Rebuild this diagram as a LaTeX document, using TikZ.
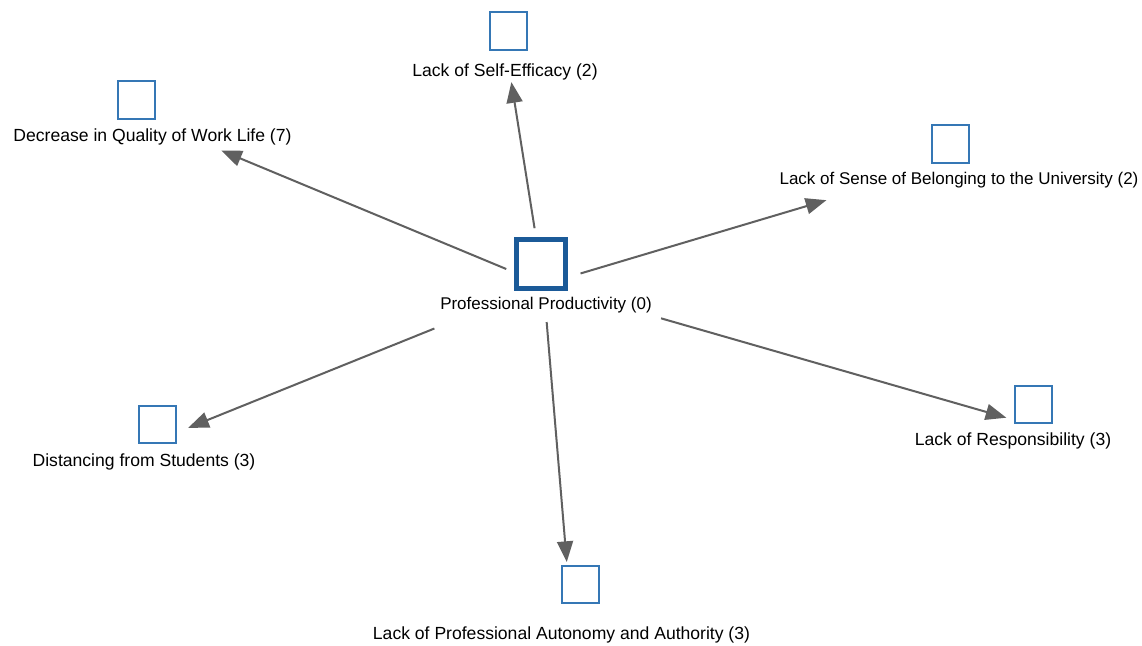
\documentclass[tikz,border=0pt]{standalone}
\usepackage{fontspec}
\setmainfont{Liberation Sans}
\usepackage{tikz}
\usetikzlibrary{arrows.meta,calc}

\definecolor{boxblue}{HTML}{3577B5}
\definecolor{coreblue}{HTML}{1B5A98}
\definecolor{arrowgray}{HTML}{606060}

\tikzset{
  concept/.style={draw=boxblue, line width=0.06cm, minimum size=1.11cm, inner sep=0pt},
  core/.style={draw=coreblue, line width=0.15cm, minimum size=1.47cm, inner sep=0pt},
  lbl/.style={font=\fontsize{15}{18}\selectfont, inner sep=0pt},
  lbl small/.style={lbl, font=\fontsize{14.5}{17}\selectfont},
  conn/.style={draw=arrowgray, line width=0.06cm,
    -{Triangle[length=0.62cm,width=0.48cm]}}
}

\begin{document}
\begin{tikzpicture}[x=0.03cm,y=-0.03cm]
  \useasboundingbox[fill=white] (0,0) rectangle (1142,646);

  % Core: professional productivity
  \node[core] (ppb) at (541,264) {};
  \node[lbl small] (ppl) at (546,305) {Professional Productivity (0)};
  \coordinate (pp) at ($(ppb)!0.5!(ppl)$);

  % Consequences
  \node[concept] (seb) at (508,31) {};
  \node[lbl] (sel) at (505,72) {Lack of Self-Efficacy (2)};
  \node[concept] (dqb) at (136,100) {};
  \node[lbl] (dql) at (152.5,137) {Decrease in Quality of Work Life (7)};
  \node[concept] (sbb) at (950,144) {};
  \node[lbl small] (sbl) at (959,180) {Lack of Sense of Belonging to the University (2)};
  \node[concept] (lrb) at (1033,404) {};
  \node[lbl] (lrl) at (1013,441) {Lack of Responsibility (3)};
  \node[concept] (dsb) at (157,424) {};
  \node[lbl] (dsl) at (144,462) {Distancing from Students (3)};
  \node[concept] (pab) at (580,584) {};
  \node[lbl] (pal) at (561.5,635) {Lack of Professional Autonomy and Authority (3)};

  % group centres
  \foreach \n in {se,dq,sb,lr,ds,pa}
    \coordinate (\n) at ($(\n b)!0.5!(\n l)$);

  % Arrows out of the core
  \foreach \t/\a/\b in {se/1.71/0.93, dq/1.21/2.50, sb/1.16/4.01,
                        lr/3.67/0.52, ds/3.53/1.22, pa/1.13/1.43}
    \draw[conn] ($(pp)!\a cm!(\t)$) -- ($(\t)!\b cm!(pp)$);
\end{tikzpicture}
\end{document}
